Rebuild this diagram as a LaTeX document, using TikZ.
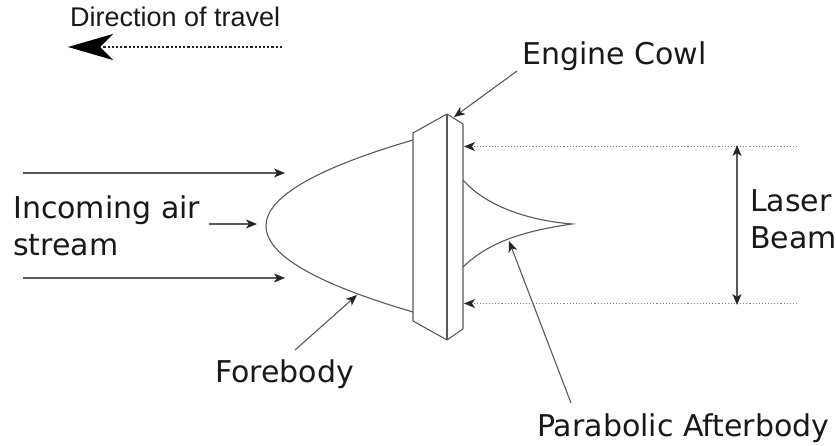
\documentclass[tikz,border=0pt]{standalone}
\usepackage{fontspec}
\setmainfont{DejaVu Sans}
\newfontfamily\arialfont{Liberation Sans}
\usetikzlibrary{arrows.meta}

\begin{document}
\begin{tikzpicture}[x=1pt, y=-1pt,
    every node/.style={inner sep=0pt, text=black!90},
    label text/.style={font=\fontsize{30}{37}\selectfont, align=left},
    body line/.style={draw=black!65, line width=1.1pt},
    pointer/.style={draw=black!65, line width=1.1pt, -{Stealth[length=11pt, width=9pt, inset=3pt, black!85]}},
    beam line/.style={draw=black!50, line width=1.1pt, dotted, -{Stealth[length=11pt, width=9pt, inset=3pt, black!85]}}]
  \useasboundingbox (0,0) rectangle (836,446);

  % texts
  \node[font=\arialfont\fontsize{27}{30}\selectfont, anchor=base west] (travel) at (70,27) {Direction of travel};
  \node[label text, anchor=base west] (cowl) at (522,65) {Engine Cowl};
  \node[label text, anchor=west] (air) at (13,226) {Incoming air\\stream};
  \node[label text, anchor=west] (laser) at (750,219.5) {Laser\\Beam};
  \node[label text, anchor=base west] (fore) at (215,383) {Forebody};
  \node[label text, anchor=base west] (after) at (537,437) {Parabolic Afterbody};

  % cowl
  \coordinate (lt) at (413,133);
  \coordinate (mt) at (447,114);
  \coordinate (rt) at (463,124);
  \coordinate (rb) at (463,329);
  \coordinate (mb) at (447,340);
  \coordinate (lb) at (413,321);
  \draw[body line, line join=round] (lt) -- (mt) -- (rt) -- (rb) -- (mb) -- (lb) -- cycle;
  \draw[body line] (mt) -- (mb);

  % forebody and afterbody
  \coordinate (nose) at (266,226);
  \coordinate (tip) at (572,224);
  \draw[body line] (413,140) .. controls (315,168.7) and (266,197.3) .. (nose)
    .. controls (266,254.7) and (315,283.3) .. (413,312);
  \draw[body line] (463,180) .. controls (485,205) and (525,220) .. (tip)
    .. controls (525,231) and (490,241) .. (463,267);

  % arrows
  \coordinate (air1) at (23,173);
  \coordinate (air1e) at (285,173);
  \coordinate (air2) at (209,224);
  \coordinate (air2e) at (257,224);
  \coordinate (air3) at (23,278);
  \coordinate (air3e) at (285,278);
  \draw[pointer] (air1) -- (air1e);
  \draw[pointer] (air2) -- (air2e);
  \draw[pointer] (air3) -- (air3e);

  \coordinate (cowl1) at (517,71);
  \coordinate (cowl2) at (454,117);
  \draw[pointer] (cowl1) -- (cowl2);
  \coordinate (fore1) at (295,350);
  \coordinate (fore2) at (357,295);
  \draw[pointer] (fore1) -- (fore2);
  \coordinate (after1) at (571,403);
  \coordinate (after2) at (509,241);
  \draw[pointer] (after1) -- (after2);

  % laser beam
  \coordinate (beam1) at (797,146.5);
  \coordinate (beam1e) at (464,146.5);
  \coordinate (beam2) at (797,303.5);
  \coordinate (beam2e) at (464,303.5);
  \draw[beam line] (beam1) -- (beam1e);
  \draw[beam line] (beam2) -- (beam2e);
  \coordinate (span1) at (737,145);
  \coordinate (span2) at (737,305);
  \draw[pointer, {Stealth[length=11pt, width=9pt, inset=3pt, black!85]}-{Stealth[length=11pt, width=9pt, inset=3pt, black!85]}] (span1) -- (span2);

  % direction of travel
  \coordinate (dir1) at (282,47);
  \coordinate (dir2) at (68,47);
  \draw[line width=2.2pt, black!85, dotted, -{Stealth[length=45pt, width=26pt, inset=13pt, black]}] (dir1) -- (dir2);
\end{tikzpicture}
\end{document}
